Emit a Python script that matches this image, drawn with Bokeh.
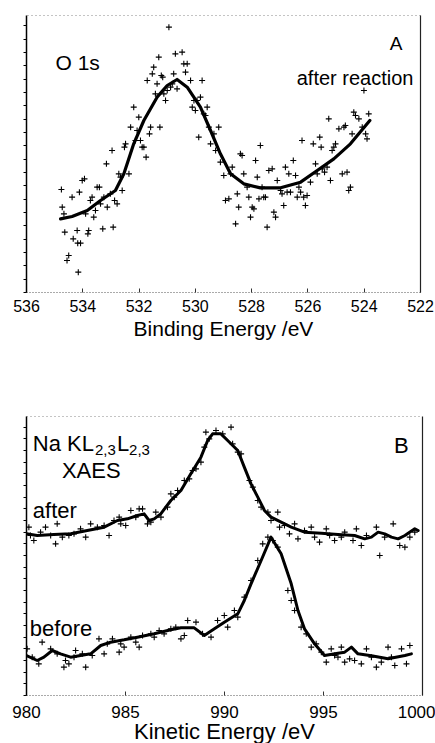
from bokeh.plotting import figure
from bokeh.models import Range1d, LinearAxis, FixedTicker, Label, CustomJSTickFormatter
from bokeh.layouts import column
from bokeh.embed import file_html
from bokeh.resources import INLINE

FONT = "Liberation Sans"

# ---------------- Panel A: O 1s (binding energy, eV ; intensity a.u.) ----------------
A_ticks = [536, 534, 532, 530, 528, 526, 524, 522]

A_fit_ev = [534.79, 534.38, 533.84, 533.37, 532.84, 532.54, 532.19, 531.83, 531.36, 531.00,
            530.65, 530.29, 529.82, 529.46, 529.11, 528.75, 528.28, 527.69, 526.97, 526.26,
            525.67, 525.08, 524.49, 523.80]
A_fit_int = [221, 228, 246, 276, 306, 356, 446, 516, 586, 621,
             639, 616, 556, 486, 416, 356, 326, 314, 314, 331,
             366, 401, 446, 516]

A_pts_ev = [534.76, 534.73, 534.67, 534.64, 534.50, 534.56, 534.38, 534.34, 534.20, 534.18,
            534.08, 534.16, 534.12, 534.02, 533.94, 533.90, 533.82, 533.79, 533.73, 533.67,
            533.61, 533.55, 533.49, 533.41, 533.37, 533.29, 533.25, 533.16, 533.13, 533.02,
            532.96, 532.92, 532.87, 532.78, 532.72, 532.66, 532.60, 532.52, 532.48, 532.36,
            532.30, 532.19, 532.13, 532.07, 532.01, 531.95, 531.89, 531.83, 531.75, 531.71,
            531.63, 531.59, 531.53, 531.48, 531.42, 531.36, 531.30, 531.26, 531.21, 531.16,
            531.12, 531.06, 531.00, 530.94, 530.88, 530.82, 530.77, 530.71, 530.65, 530.47,
            530.41, 530.35, 530.29, 530.17, 530.11, 530.05, 530.00, 529.94, 529.88, 529.82,
            529.76, 529.70, 529.64, 529.58, 529.52, 529.46, 529.34, 529.28, 529.17, 529.11,
            528.99, 528.93, 528.81, 528.75, 528.69, 528.57, 528.51, 528.46, 528.40, 528.34,
            528.28, 528.16, 528.10, 528.04, 527.98, 527.92, 527.86, 527.80, 527.74, 527.69,
            527.63, 527.57, 527.51, 527.45, 527.39, 527.27, 527.21, 527.15, 527.09, 526.97,
            526.92, 526.86, 526.80, 526.74, 526.68, 526.62, 526.52, 526.44, 526.38, 526.32,
            526.26, 526.21, 526.15, 526.09, 526.03, 525.91, 525.81, 525.73, 525.67, 525.58,
            525.53, 525.49, 525.41, 525.32, 525.26, 525.20, 525.14, 525.08, 525.02, 524.90,
            524.78, 524.72, 524.67, 524.61, 524.55, 524.49, 524.43, 524.37, 524.31, 524.19,
            524.07, 524.01, 523.95, 523.90, 523.84]
A_pts_int = [309, 256, 236, 181, 111, 96, 286, 161, 186, 148,
             148, 61, 301, 336, 341, 236, 176, 186, 276, 286,
             226, 246, 316, 316, 266, 191, 286, 386, 256, 296,
             426, 196, 276, 266, 356, 346, 306, 436, 446, 356,
             496, 556, 456, 486, 526, 456, 436, 436, 406, 636,
             476, 496, 656, 676, 596, 626, 706, 496, 651, 646,
             596, 576, 606, 796, 616, 626, 656, 716, 611, 721,
             686, 661, 686, 636, 556, 576, 546, 576, 466, 586,
             636, 536, 531, 556, 496, 446, 476, 426, 496, 391,
             351, 276, 281, 356, 376, 206, 296, 256, 416, 411,
             356, 316, 286, 226, 256, 251, 396, 346, 281, 441,
             316, 286, 286, 196, 366, 371, 241, 226, 336, 306,
             296, 261, 376, 301, 356, 301, 396, 351, 286, 316,
             301, 456, 286, 261, 291, 331, 446, 386, 356, 466,
             436, 371, 361, 376, 521, 336, 426, 436, 446, 491,
             356, 496, 501, 361, 306, 316, 476, 541, 531, 521,
             496, 606, 476, 461, 536]

# ---------------- Panel B: Na KLL XAES (kinetic energy, eV ; intensity a.u.) ----------------
B_ticks = [980, 985, 990, 995, 1000]
B_tick_text = ["980", "985", "990", "995", "100"]

after_fit_ev = [980.00, 980.54, 981.38, 982.23, 983.07, 983.92, 984.59, 985.10, 985.60, 985.94,
                986.19, 986.45, 986.78, 987.29, 987.80, 988.30, 988.81, 989.15, 989.40, 989.82,
                990.16, 990.67, 991.00, 991.34, 991.68, 992.02, 992.35, 992.86, 993.37, 994.04,
                994.89, 995.73, 996.57, 997.08, 997.42, 997.76, 998.09, 998.43, 998.77, 999.11,
                999.61, 999.78]
after_fit_int = [485, 480, 483, 485, 495, 505, 525, 530, 540, 545,
                 525, 530, 545, 585, 615, 665, 715, 765, 785, 785,
                 765, 735, 685, 635, 595, 555, 535, 520, 505, 490,
                 487, 483, 480, 470, 475, 490, 485, 475, 470, 480,
                 500, 495]

before_fit_ev = [980.00, 980.54, 980.88, 981.30, 981.72, 982.23, 982.73, 983.24, 983.75, 984.25,
                 984.93, 985.60, 986.45, 987.29, 987.80, 988.47, 988.98, 989.49, 989.99, 990.67,
                 991.00, 991.34, 991.85, 992.35, 992.86, 993.37, 993.71, 994.04, 994.55, 995.05,
                 995.73, 996.07, 996.41, 996.74, 997.42, 998.26, 999.11, 999.44]
before_fit_int = [120, 105, 115, 135, 125, 115, 120, 125, 150, 160,
                  167, 175, 185, 197, 203, 203, 180, 200, 220, 245,
                  285, 335, 405, 475, 425, 335, 255, 200, 155, 120,
                  127, 130, 145, 125, 119, 110, 120, 125]

after_pts_ev = [980.12, 980.20, 980.37, 980.71, 980.96, 981.22, 981.47, 981.55, 981.81, 982.14,
                982.40, 982.73, 982.99, 983.24, 983.58, 983.92, 984.17, 984.42, 984.68, 984.76,
                985.01, 985.27, 985.52, 985.69, 985.86, 986.11, 986.28, 986.53, 986.79, 987.12,
                987.29, 987.46, 987.63, 987.97, 988.22, 988.39, 988.56, 988.81, 988.98, 989.06,
                989.23, 989.57, 989.91, 990.33, 990.41, 990.67, 990.84, 991.26, 991.43, 991.68,
                991.85, 992.19, 992.35, 992.69, 992.78, 993.03, 993.28, 993.54, 993.71, 994.04,
                994.38, 994.55, 994.80, 995.14, 995.31, 995.56, 995.90, 996.07, 996.49, 996.66,
                996.91, 997.17, 997.67, 997.84, 998.09, 998.52, 998.85, 999.11, 999.36, 999.61]
after_pts_int = [505, 480, 465, 490, 505, 480, 455, 515, 475, 480,
                 485, 500, 475, 515, 505, 510, 480, 525, 535, 515,
                 510, 555, 535, 560, 560, 515, 520, 550, 535, 565,
                 605, 595, 615, 645, 650, 675, 680, 700, 745, 790,
                 770, 795, 785, 805, 755, 730, 725, 645, 625, 585,
                 565, 550, 525, 550, 505, 510, 485, 515, 470, 495,
                 505, 475, 460, 500, 480, 465, 475, 490, 465, 500,
                 450, 480, 505, 420, 475, 515, 450, 445, 475, 490]

before_pts_ev = [980.03, 980.29, 980.62, 980.79, 981.22, 981.55, 981.89, 981.97, 982.14, 982.40,
                 982.48, 982.82, 982.99, 983.32, 983.66, 983.92, 984.08, 984.34, 984.68, 984.76,
                 984.93, 985.27, 985.52, 985.69, 985.86, 986.28, 986.45, 986.70, 986.95, 987.29,
                 987.54, 987.80, 987.97, 988.14, 988.56, 988.89, 989.32, 989.65, 989.99, 990.16,
                 990.50, 990.67, 991.00, 991.34, 991.68, 991.93, 992.19, 992.44, 992.69, 993.20,
                 993.37, 993.54, 993.87, 994.13, 994.38, 994.63, 994.89, 995.14, 995.39, 995.56,
                 995.73, 995.90, 996.07, 996.32, 996.57, 996.91, 997.17, 997.42, 997.67, 997.92,
                 998.26, 998.43, 998.60, 998.94, 999.19, 999.36]
before_pts_int = [140, 115, 95, 160, 140, 125, 85, 105, 95, 115,
                  135, 125, 85, 120, 170, 125, 155, 170, 130, 155,
                  145, 175, 160, 145, 180, 185, 175, 195, 185, 200,
                  205, 170, 180, 225, 220, 185, 175, 225, 240, 205,
                  255, 235, 295, 345, 405, 455, 475, 465, 445, 315,
                  285, 255, 205, 185, 145, 155, 130, 100, 140, 120,
                  115, 145, 100, 110, 105, 95, 140, 115, 85, 100,
                  145, 115, 90, 140, 95, 150]


def frame_axes(p, xticks, yminor, tick_font_size, label, label_size, label_standoff, tick_standoff):
    p.grid.visible = False
    p.outline_line_color = None
    xa = p.xaxis[0]
    xa.ticker = FixedTicker(ticks=xticks)
    xa.axis_line_dash = "1 2"
    xa.axis_line_color = "#555555"
    xa.major_tick_in = 4
    xa.major_tick_out = 0
    xa.major_tick_line_color = "#333333"
    xa.minor_tick_line_color = None
    xa.major_label_text_font = FONT
    xa.major_label_text_font_size = tick_font_size
    xa.major_label_text_color = "black"
    xa.major_label_standoff = tick_standoff
    xa.axis_label = label
    xa.axis_label_text_font = FONT
    xa.axis_label_text_font_style = "normal"
    xa.axis_label_text_font_size = label_size
    xa.axis_label_text_color = "black"
    xa.axis_label_standoff = label_standoff

    ya = p.yaxis[0]
    ya.ticker = FixedTicker(ticks=[], minor_ticks=yminor)
    ya.axis_line_color = "black"
    ya.axis_line_width = 1.5
    ya.minor_tick_out = 3
    ya.minor_tick_in = 0
    ya.minor_tick_line_color = "black"
    ya.major_tick_line_color = None

    top = LinearAxis(ticker=FixedTicker(ticks=[]), axis_line_dash="1 3", axis_line_color="#888888",
                     major_tick_line_color=None, minor_tick_line_color=None,
                     major_label_standoff=0)
    p.add_layout(top, "above")
    right = LinearAxis(ticker=FixedTicker(ticks=[]), axis_line_color="#222222", axis_line_width=1.2,
                       major_tick_line_color=None, minor_tick_line_color=None,
                       major_label_standoff=0)
    p.add_layout(right, "right")


def add_label(p, x, y, text, size, align="left"):
    p.add_layout(Label(x=x, y=y, text=text, text_font=FONT, text_font_size=size,
                       text_color="black", text_align=align, text_baseline="alphabetic"))


# ---- Figure A ----
pA = figure(frame_width=394, frame_height=277, min_border_left=26, min_border_top=15,
            min_border_right=15, min_border_bottom=56,
            x_range=Range1d(536, 522), y_range=Range1d(0, 831),
            output_backend="svg", toolbar_location=None)
frame_axes(pA, A_ticks, list(range(0, 832, 40)), "16px", "Binding Energy /eV", "21px", 2, 7)
pA.scatter(A_pts_ev, A_pts_int, marker="cross", size=6, line_color="black", line_width=1.1)
pA.line(A_fit_ev, A_fit_int, line_color="black", line_width=3.2, line_join="round", line_cap="round")
add_label(pA, 534.97, 690, "O 1s", "21px")
add_label(pA, 522.87, 746, "A", "19px", "center")
add_label(pA, 522.25, 645, "after reaction", "20px", "right")

# ---- Figure B ----
pB = figure(frame_width=396, frame_height=279, min_border_left=22, min_border_top=68,
            min_border_right=17, min_border_bottom=48,
            x_range=Range1d(980, 1000), y_range=Range1d(0, 837),
            output_backend="svg", toolbar_location=None)
frame_axes(pB, B_ticks, list(range(0, 838, 35)), "17px", "Kinetic Energy /eV", "22px", -2, 10)
xb = pB.xaxis[0]
xb.formatter = CustomJSTickFormatter(
    args=dict(vals=B_ticks, names=B_tick_text),
    code="""
    for (let i = 0; i < vals.length; i++) {
        if (Math.abs(Number(vals[i]) - tick) < 0.01) { return names[i]; }
    }
    return String(tick);
    """)
xb.major_label_overrides = {float(v): t for v, t in zip(B_ticks, B_tick_text)}
pB.scatter(after_pts_ev, after_pts_int, marker="cross", size=6, line_color="black", line_width=1.1)
pB.scatter(before_pts_ev, before_pts_int, marker="cross", size=6, line_color="black", line_width=1.1)
pB.line(after_fit_ev, after_fit_int, line_color="black", line_width=3, line_join="round", line_cap="round")
pB.line(before_fit_ev, before_fit_int, line_color="black", line_width=3, line_join="round", line_cap="round")
add_label(pB, 980.32, 756, "Na KL", "22px")
add_label(pB, 983.46, 738, "2,3", "15px")
add_label(pB, 984.57, 756, "L", "22px")
add_label(pB, 985.18, 738, "2,3", "15px")
add_label(pB, 981.79, 675, "XAES", "22px")
add_label(pB, 980.32, 555, "after", "22px")
add_label(pB, 980.17, 201, "before", "22px")
add_label(pB, 998.93, 750, "B", "22px", "center")

layout = column(pA, pB, spacing=0)
html = file_html(layout, INLINE, title="XPS / XAES")
html = html.replace("<head>", "<head><style>html,body{overflow:hidden;}</style>", 1)
open("out.html", "w").write(html)
